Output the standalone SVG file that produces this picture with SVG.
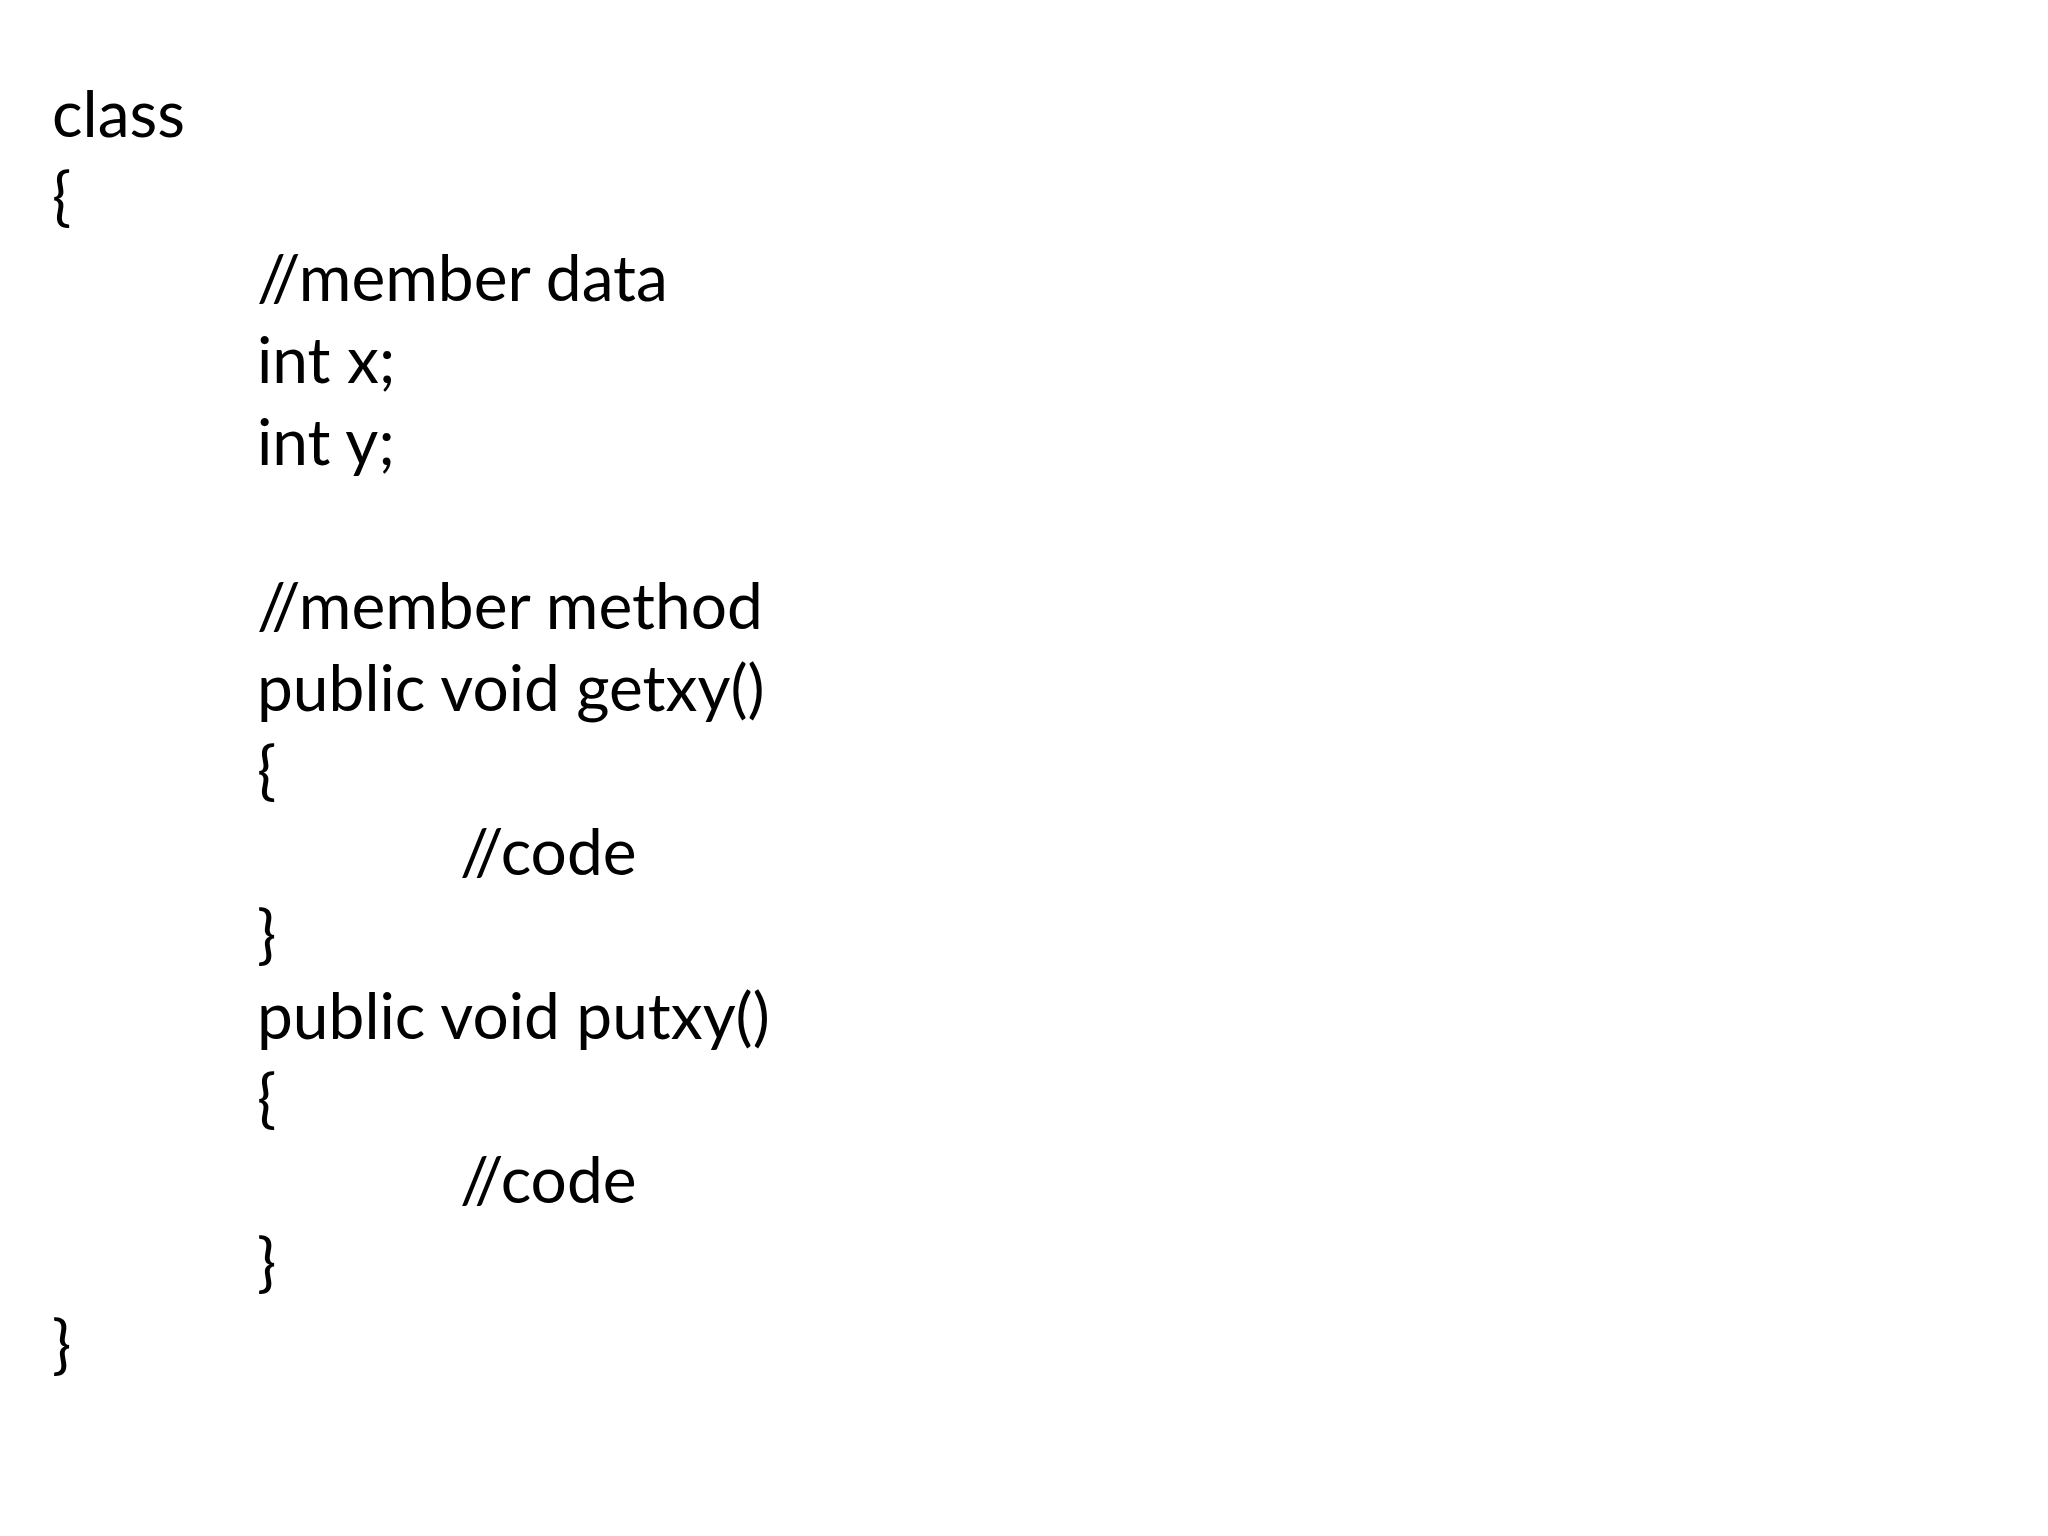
<svg xmlns="http://www.w3.org/2000/svg" width="2048" height="1536" viewBox="0 0 2048 1536">
<style>text{font-family:Lato,"Liberation Sans",sans-serif;font-size:64px;fill:#000}</style>
<rect width="2048" height="1536" fill="#fff"/>
<text x="52" y="137">class</text>
<text x="52" y="219">{</text>
<text x="257" y="301">//member data</text>
<text x="257" y="383">int x;</text>
<text x="257" y="465">int y;</text>
<text x="257" y="629">//member method</text>
<text x="257" y="711">public void getxy()</text>
<text x="257" y="793">{</text>
<text x="460" y="875">//code</text>
<text x="257" y="957">}</text>
<text x="257" y="1039">public void putxy()</text>
<text x="257" y="1121">{</text>
<text x="460" y="1203">//code</text>
<text x="257" y="1285">}</text>
<text x="52" y="1367">}</text>
</svg>
